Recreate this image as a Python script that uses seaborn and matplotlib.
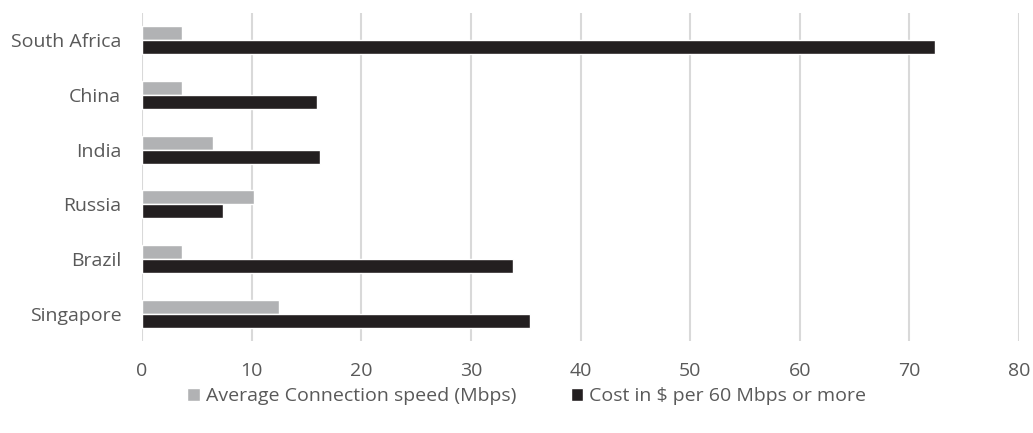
import pandas as pd
import matplotlib
matplotlib.use("Agg")
import matplotlib.pyplot as plt
import seaborn as sns

# data
countries = ["South Africa", "China", "India", "Russia", "Brazil", "Singapore"]
avg_speed = [3.6, 3.6, 6.5, 10.2, 3.6, 12.5]
cost_60mbps = [72.3, 16.0, 16.2, 7.4, 33.8, 35.4]
speed_label = "Average Connection speed (Mbps)"
cost_label = "Cost in $ per 60 Mbps or more"

df = pd.DataFrame({"Country": countries, speed_label: avg_speed, cost_label: cost_60mbps})
long_df = df.melt(id_vars="Country", var_name="Series", value_name="Value")

sns.set_style("white")
plt.rcParams["font.family"] = ["Open Sans", "DejaVu Sans"]

fig = plt.figure(figsize=(10.33, 4.33), dpi=100)
ax = fig.add_axes([0.1375, 0.2125, 0.849, 0.7575])

sns.barplot(data=long_df, y="Country", x="Value", hue="Series", order=countries,
            hue_order=[speed_label, cost_label], palette=["#B1B2B4", "#231F20"],
            orient="h", width=0.51, saturation=1, ax=ax, zorder=3)

ax.set_xlim(0, 80)
ax.set_xticks(range(0, 81, 10))
ax.set_ylim(5.5, -0.5)
ax.grid(axis="x", color="#D9D9D9", linewidth=1.5, zorder=0)
ax.grid(axis="y", visible=False)
for s in ax.spines.values():
    s.set_visible(False)
ax.set_xlabel("")
ax.set_ylabel("")
ax.tick_params(axis="both", length=0, labelsize=14, labelcolor="#595959")
ax.tick_params(axis="x", pad=15)
ax.tick_params(axis="y", pad=15)

ax.legend_.remove()
handles, labels = ax.get_legend_handles_labels()
fig.legend(handles, labels, loc="center", bbox_to_anchor=(0.51, 0.085), ncol=2,
           frameon=False, fontsize=14, labelcolor="#595959", handlelength=0.65,
           handleheight=0.65, handletextpad=0.3, columnspacing=2.8)

fig.savefig("out.png", dpi=100)
